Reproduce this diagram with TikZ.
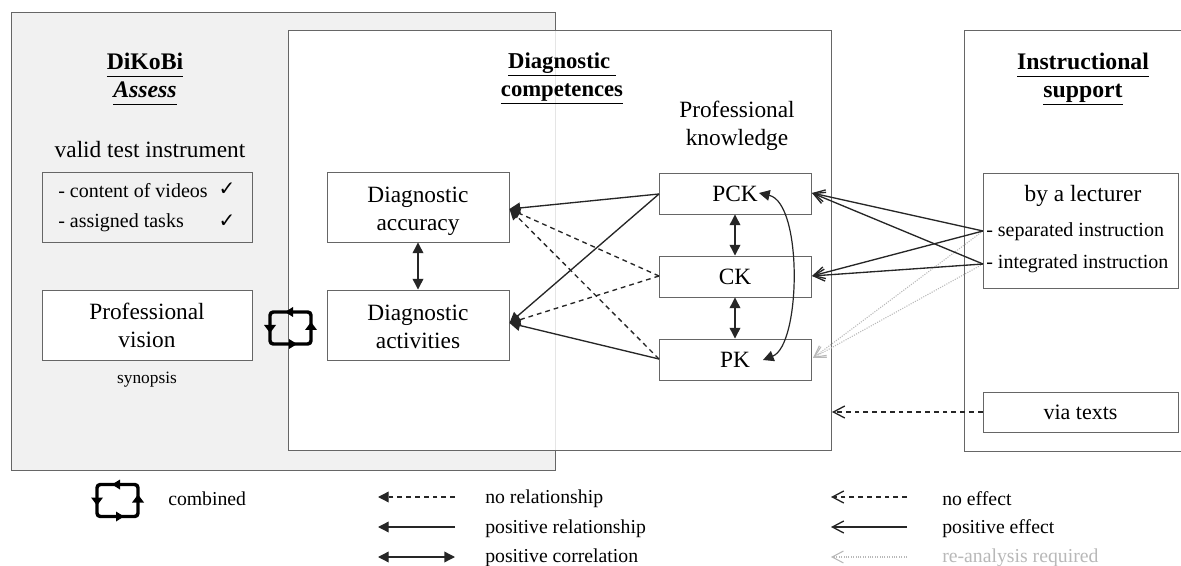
\documentclass[tikz,border=0pt]{standalone}
\usepackage{fontspec}
\setmainfont{Liberation Serif}
\usetikzlibrary{arrows.meta}
\definecolor{boxline}{gray}{0.4}
\definecolor{greyfill}{gray}{0.945}
\definecolor{faint}{gray}{0.72}
\newcommand{\ul}[1]{\underline{#1\vphantom{p}}}
\tikzset{
  x=0.75pt,y=-0.75pt,
  frame/.style={draw=boxline,line width=0.7pt},
  bx/.style={draw=boxline,line width=0.7pt,fill=white,align=center,inner sep=0pt,font=\fontsize{17.5}{21}\selectfont},
  title/.style={align=center,font=\fontsize{17.8}{21}\selectfont\bfseries},
  txt/.style={font=\fontsize{17.5}{21}\selectfont,align=center},
  small/.style={font=\fontsize{15}{18}\selectfont,anchor=west,inner sep=0pt},
  leg/.style={font=\fontsize{14.8}{18}\selectfont,anchor=west,inner sep=0pt},
  rel/.style={line width=1pt,black!85,-{Triangle[length=8pt,width=8pt]}},
  reld/.style={rel,dash pattern=on 3.6pt off 3pt},
  corr/.style={line width=1pt,black!85,{Triangle[length=8pt,width=8pt]}-{Triangle[length=8pt,width=8pt]}},
  eff/.style={line width=1pt,black!85,-{Straight Barb[length=8.5pt,width=9pt]}},
  effd/.style={eff,dash pattern=on 3.6pt off 3pt},
  effg/.style={line width=0.8pt,faint,densely dotted,-{Straight Barb[length=8.5pt,width=9pt]}},
  loopl/.style={line width=2.6pt,black,rounded corners=2.5pt},
  looptip/.style={fill=black,draw=none},
}
\newcommand{\cyc}[2]{%
  \begin{scope}[shift={(#1,#2)}]
    \draw[loopl] (-1,-16) -- (-20,-16) -- (-20,16) -- (-1,16);
    \draw[loopl] (3,16) -- (21,16) -- (21,-16) -- (3,-16);
    \fill[looptip] (7,16) -- (-1,11) -- (-1,21) -- cycle;
    \fill[looptip] (-5,-16) -- (3,-21) -- (3,-11) -- cycle;
    \fill[looptip] (-20,5) -- (-26,-3) -- (-14,-3) -- cycle;
    \fill[looptip] (21,-6) -- (15,2) -- (27,2) -- cycle;
  \end{scope}}
\begin{document}
\begin{tikzpicture}
\useasboundingbox (0,0) rectangle (1181,566);
% panels
\path[frame,fill=greyfill] (11,12) rectangle (555,470);
\path[frame,fill=white] (288,30) rectangle (831,450.5);
\draw[black!10,line width=0.5pt] (555,31) -- (555,450);
\draw[frame] (1181,30) -- (964,30) -- (964,451) -- (1181,451);

% titles
\node[title] (t1) at (145,79) {\ul{DiKoBi}\\\ul{\itshape Assess}};
\node[title,font=\fontsize{17}{21}\selectfont\bfseries] (t2) at (562,78.5) {\ul{Diagnostic\ }\\\ul{competences}};
\node[title] (t3) at (1083,79) {\ul{Instructional}\\\ul{support}};
\node[txt] (pk) at (737,126) {Professional\\knowledge};
\node[txt] (vti) at (150,150) {valid test instrument};

% boxes
\node[draw=boxline,line width=0.7pt,minimum width=157.5pt,minimum height=52.5pt,inner sep=0pt] (valid) at (147,207) {};
\node[small] (c1) at (58,191) {- content of videos};
\node[small] (c2) at (58,223) {- assigned tasks};
\node[font=\fontsize{15}{17}\selectfont\fontspec{DejaVu Sans}] (m1) at (227,189) {✓};
\node[font=\fontsize{15}{17}\selectfont\fontspec{DejaVu Sans}] (m2) at (227,221) {✓};
\node[bx,minimum width=157.5pt,minimum height=52.5pt] (pv) at (147,325) {Professional\\vision};
\node[font=\fontsize{13}{16}\selectfont] (syn) at (147,380) {synopsis};

\node[bx,minimum width=136.5pt,minimum height=52.5pt] (acc) at (418,207) {\rule{0pt}{18pt}Diagnostic\\accuracy};
\node[bx,minimum width=136.5pt,minimum height=52.5pt] (act) at (418,325) {\rule{0pt}{14pt}Diagnostic\\activities};
\node[bx,minimum width=114pt,minimum height=30.75pt] (pck) at (735,193.5) {PCK};
\node[bx,minimum width=114pt,minimum height=30.75pt] (ck) at (735,276.5) {CK};
\node[bx,minimum width=114pt,minimum height=30.75pt] (pkb) at (735,359.5) {PK};
\node[bx,minimum width=146.25pt,minimum height=86.25pt] (lect) at (1080.5,230.5) {};
\node[txt] (by) at (1083,196) {by a lecturer};
\node[small] (sep) at (986,232) {- separated instruction};
\node[small] (int) at (986,264) {- integrated instruction};
\node[bx,minimum width=146.25pt,minimum height=30pt,font=\fontsize{16.5}{20}\selectfont] (vt) at (1080.5,412) {via texts};

% combined symbol
\cyc{290}{328}

% connectors
\coordinate (accin) at (509.5,209);
\coordinate (actin) at (509.5,323);
\coordinate (pckw) at (659,194);
\coordinate (ckw) at (659,276);
\coordinate (pkw) at (659,359);
\draw[corr] (acc.south) -- (act.north);
\draw[corr] (pck.south) -- (ck.north);
\draw[corr] (ck.south) -- (pkb.north);
\draw[rel] (pckw) -- (accin);
\draw[rel] (pckw) -- (actin);
\draw[rel] (pkw) -- (actin);
\draw[reld] (ckw) -- (accin);
\draw[reld] (pkw) -- (accin);
\draw[reld] (ckw) -- (actin);
\coordinate (pckt) at (759,193);
\coordinate (pkt) at (763,360);
\draw[line width=0.9pt,black!85,{Triangle[length=8pt,width=8pt]}-{Triangle[length=8pt,width=8pt]}] (pckt) .. controls (803,203) and (801,345) .. (pkt);
\coordinate (sepw) at (983,231);
\coordinate (intw) at (983,264);
\coordinate (pcke) at (812,193);
\coordinate (cke) at (812,276);
\coordinate (pke) at (813,358);
\draw[effg] (sepw) -- (pke);
\draw[effg] (intw) -- (pke);
\draw[eff] (sepw) -- (pcke);
\draw[eff] (intw) -- (pcke);
\draw[eff] (sepw) -- (cke);
\draw[eff] (intw) -- (cke);
\coordinate (diagin) at (832,412);
\draw[effd] (vt.west) -- (diagin);

% legend
\cyc{117}{500.5}
\node[leg] (l0) at (168,499) {combined};
\coordinate (a1r) at (455,497); \coordinate (a1l) at (378,497);
\coordinate (a2r) at (455,527); \coordinate (a2l) at (378,527);
\coordinate (a3r) at (455,557); \coordinate (a3l) at (378,557);
\draw[reld] (a1r) -- (a1l);
\draw[rel] (a2r) -- (a2l);
\draw[corr] (a3r) -- (a3l);
\node[leg] (l1) at (485,499) {no relationship};
\node[leg] (l2) at (485,529) {positive relationship};
\node[leg] (l3) at (485,558) {positive correlation};
\coordinate (b1r) at (907,497); \coordinate (b1l) at (831,497);
\coordinate (b2r) at (907,527); \coordinate (b2l) at (831,527);
\coordinate (b3r) at (907,557); \coordinate (b3l) at (831,557);
\draw[effd] (b1r) -- (b1l);
\draw[eff] (b2r) -- (b2l);
\draw[effg] (b3r) -- (b3l);
\node[leg] (r1) at (942,499) {no effect};
\node[leg] (r2) at (942,529) {positive effect};
\node[leg,text=faint] (r3) at (942,558) {re-analysis required};
\end{tikzpicture}
\end{document}
